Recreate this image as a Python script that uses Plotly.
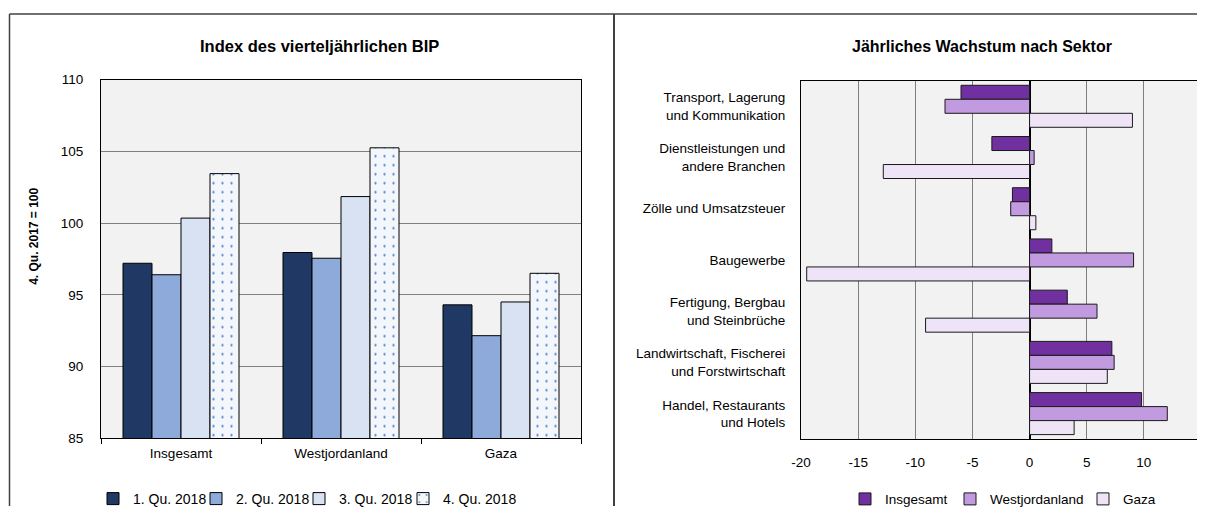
import plotly.graph_objects as go

# ---------------- data ----------------
regions = ["Insgesamt", "Westjordanland", "Gaza"]
quarters = ["1. Qu. 2018", "2. Qu. 2018", "3. Qu. 2018", "4. Qu. 2018"]
q1 = [97.2, 97.95, 94.3]
q2 = [96.4, 97.55, 92.15]
q3 = [100.35, 101.85, 94.5]
q4 = [103.45, 105.25, 96.5]
index_tick_vals = [85, 90, 95, 100, 105, 110]

sectors = [
    "Transport, Lagerung<br>und Kommunikation",
    "Dienstleistungen und<br>andere Branchen",
    "Zölle und Umsatzsteuer",
    "Baugewerbe",
    "Fertigung, Bergbau<br>und Steinbrüche",
    "Landwirtschaft, Fischerei<br>und Forstwirtschaft",
    "Handel, Restaurants<br>und Hotels",
]
series_names = ["Insgesamt", "Westjordanland", "Gaza"]
growth_total = [-6.0, -3.3, -1.5, 1.95, 3.3, 7.2, 9.8]
growth_west = [-7.4, 0.4, -1.65, 9.1, 5.9, 7.4, 12.05]
growth_gaza = [9.0, -12.8, 0.55, -19.5, -9.1, 6.8, 3.9]
growth_tick_vals = [-20, -15, -10, -5, 0, 5, 10, 15]
growth_tick_text = ["-20", "-15", "-10", "-5", "0", "5", "10", "15"]

# ---------------- styling ----------------
# The page body has an 8px margin, so the figure is sized to fit the window without scrollbars
OFF = 8
W, H = 1205 - OFF, 523 - 2 * OFF
FONT = "Liberation Sans, Arial, sans-serif"
left_colors = ["#1F3864", "#8EAADB", "#D9E2F3", "#F3F7FC"]
right_colors = ["#7030A0", "#C29AE0", "#EFE4F7"]
left_legend_px = [93, 196, 299, 403]     # page x of each left legend entry
right_legend_px = [845, 950, 1083]       # page x of each right legend entry

def px_x(p):
    return (p - OFF) / W

def px_y(p):
    return 1 - (p - OFF) / H

fig = go.Figure()
legend_layouts = {}

def legend_box(xpx, size):
    return dict(
        orientation="h", x=px_x(xpx), xanchor="left", y=px_y(508), yanchor="middle",
        font=dict(family=FONT, size=size), bgcolor="rgba(0,0,0,0)",
        itemwidth=30, itemclick=False, itemdoubleclick=False, visible=True,
    )

# Left chart: grouped bars with explicit group width
group_frac = 0.725
bw = group_frac / 4
left_series = [q1, q2, q3, q4]
for i, (name, vals) in enumerate(zip(quarters, left_series)):
    lid = "legend" if i == 0 else f"legend{i + 1}"
    legend_layouts[lid] = legend_box(left_legend_px[i], 14)
    marker = dict(color=left_colors[i], line=dict(color="#000000", width=1))
    if i == 3:
        marker["pattern"] = dict(shape=".", fgcolor="#4F7FD0", bgcolor=left_colors[i],
                                 size=9, solidity=0.05, fillmode="replace")
    fig.add_trace(go.Bar(
        x=regions, y=vals, name=name, marker=marker,
        width=bw, offset=-group_frac / 2 + i * bw,
        xaxis="x", yaxis="y", legend=lid, showlegend=True,
    ))

# Right chart: horizontal grouped bars
for i, (name, vals) in enumerate(zip(series_names, [growth_total, growth_west, growth_gaza])):
    lid = f"legend{i + 5}"
    legend_layouts[lid] = legend_box(right_legend_px[i], 13.5)
    fig.add_trace(go.Bar(
        y=sectors, x=vals, name=name, orientation="h",
        marker=dict(color=right_colors[i], line=dict(color="#1a1a1a", width=1)),
        xaxis="x2", yaxis="y2", legend=lid, showlegend=True,
    ))

tick_font = dict(family=FONT, size=13.5, color="#000000")

fig.update_layout(
    width=W, height=H,
    autosize=False,
    showlegend=True,
    margin=dict(l=0, r=0, t=0, b=0, pad=0),
    paper_bgcolor="#FFFFFF",
    plot_bgcolor="#F2F2F2",
    barmode="group",
    bargap=0.18,
    bargroupgap=0,
    font=dict(family=FONT, size=13, color="#000000"),
    xaxis=dict(
        domain=[px_x(101), px_x(581)],
        anchor="y", automargin=False,
        showgrid=False,
        showline=True, linecolor="#000000", linewidth=1, mirror=True,
        ticks="outside", tickson="boundaries", ticklen=5, tickcolor="#000000",
        ticklabelstandoff=3,
        tickfont=tick_font,
    ),
    yaxis=dict(
        domain=[px_y(446), px_y(81)],
        anchor="x", automargin=False,
        range=[85, 110],
        tickvals=index_tick_vals,
        showgrid=True, gridcolor="#7F7F7F", gridwidth=1,
        showline=True, linecolor="#000000", linewidth=1, mirror=True,
        ticks="", ticklabelstandoff=14,
        tickfont=tick_font,
        zeroline=False,
    ),
    xaxis2=dict(
        domain=[px_x(801), px_x(1201)],
        anchor="y2", automargin=False,
        range=[-20, 15],
        tickvals=growth_tick_vals, ticktext=growth_tick_text,
        showgrid=True, gridcolor="#7F7F7F", gridwidth=1,
        zeroline=True, zerolinecolor="#000000", zerolinewidth=1.5,
        showline=True, linecolor="#000000", linewidth=1, mirror=True,
        ticks="", ticklabelstandoff=11,
        tickfont=tick_font,
    ),
    yaxis2=dict(
        domain=[px_y(447), px_y(82)],
        anchor="x2", automargin=False,
        autorange="reversed",
        showgrid=False,
        showline=True, linecolor="#000000", linewidth=1, mirror=True,
        ticks="", ticklabelstandoff=12,
        tickfont=tick_font,
    ),
    annotations=[
        dict(text="<b>Index des vierteljährlichen BIP</b>", xref="paper", yref="paper",
             x=px_x(319), y=px_y(47), xanchor="center", yanchor="middle", showarrow=False,
             font=dict(family=FONT, size=16.5, color="#000000")),
        dict(text="<b>Jährliches Wachstum nach Sektor</b>", xref="paper", yref="paper",
             x=px_x(982), y=px_y(47), xanchor="center", yanchor="middle", showarrow=False,
             font=dict(family=FONT, size=16, color="#000000")),
        dict(text="<b>4. Qu. 2017 = 100</b>", xref="paper", yref="paper",
             x=px_x(34), y=px_y(241), xanchor="center", yanchor="middle", showarrow=False,
             textangle=-90, font=dict(family=FONT, size=12, color="#000000")),
    ],
    shapes=[
        dict(type="line", xref="paper", yref="paper", x0=px_x(9.5), x1=1, y0=px_y(14), y1=px_y(14),
             line=dict(color="#404040", width=1.5)),
        dict(type="line", xref="paper", yref="paper", x0=px_x(9.5), x1=px_x(9.5), y0=0, y1=px_y(14),
             line=dict(color="#404040", width=1.5)),
        dict(type="line", xref="paper", yref="paper", x0=px_x(614), x1=px_x(614), y0=0, y1=px_y(14),
             line=dict(color="#404040", width=2)),
    ],
)
fig.update_layout(**legend_layouts)

fig.write_html("out.html")
